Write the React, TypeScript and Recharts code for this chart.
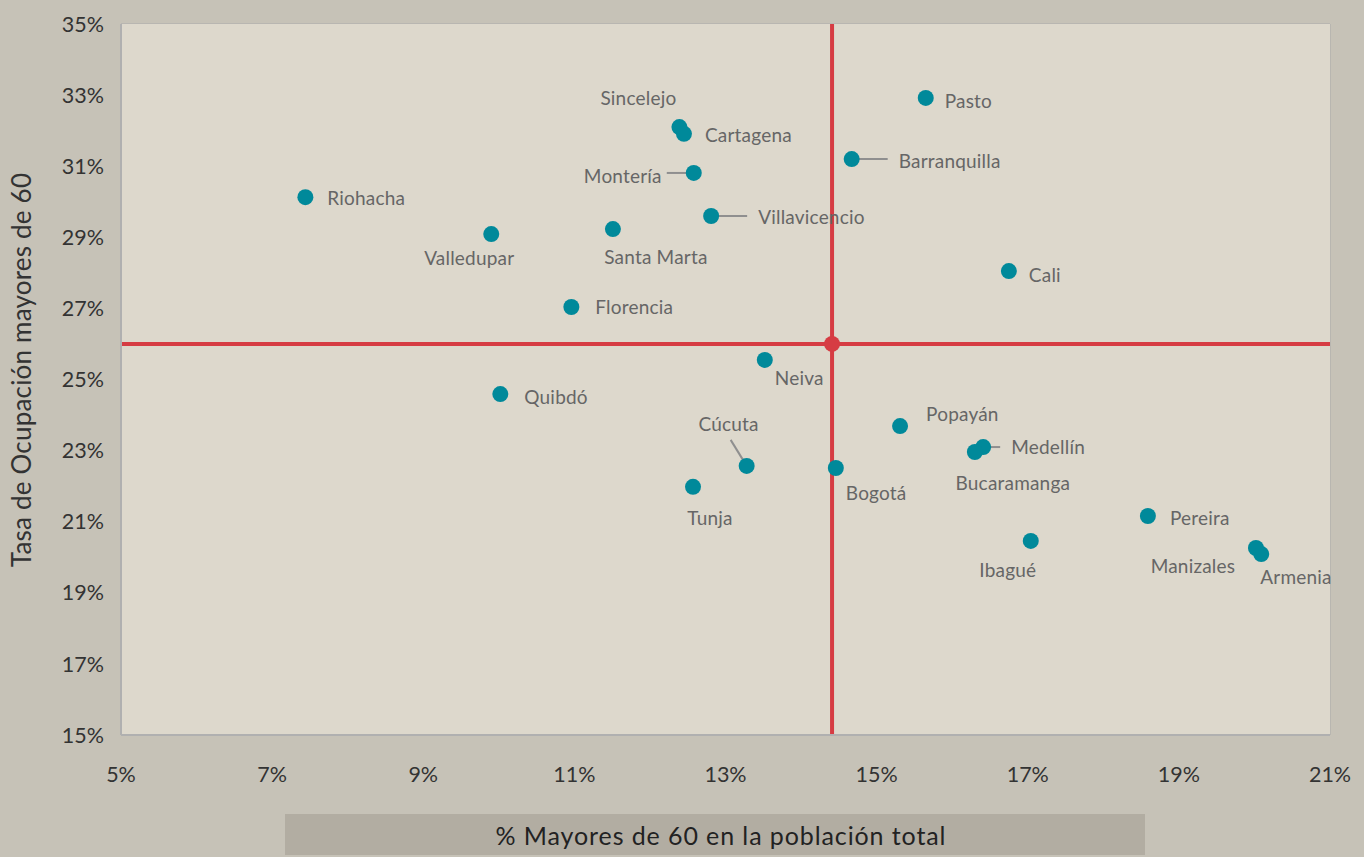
import React from 'react';
import {
  ScatterChart, Scatter, XAxis, YAxis, CartesianGrid, ReferenceLine, ReferenceDot,
} from 'recharts';

const cities = [
  'Pasto', 'Sincelejo', 'Cartagena', 'Barranquilla', 'Montería', 'Riohacha', 'Villavicencio',
  'Santa Marta', 'Valledupar', 'Cali', 'Florencia', 'Neiva', 'Quibdó', 'Popayán', 'Medellín',
  'Bucaramanga', 'Cúcuta', 'Bogotá', 'Tunja', 'Pereira', 'Ibagué', 'Manizales', 'Armenia',
];
const pctMayores60 = [
  15.65, 12.39, 12.45, 14.67, 12.58, 7.44, 12.81,
  11.51, 9.90, 16.75, 10.96, 13.52, 10.02, 15.31, 16.41,
  16.30, 13.28, 14.46, 12.57, 18.59, 17.04, 20.02, 20.09,
];
const tasaOcupacion60 = [
  32.92, 32.10, 31.91, 31.20, 30.81, 30.13, 29.60,
  29.23, 29.09, 28.05, 27.04, 25.55, 24.59, 23.69, 23.10,
  22.96, 22.57, 22.51, 21.98, 21.16, 20.46, 20.26, 20.09,
];
const promedioX = 14.41;
const promedioY = 26.0;
const xTicks = [5, 7, 9, 11, 13, 15, 17, 19, 21];
const yTicks = [15, 17, 19, 21, 23, 25, 27, 29, 31, 33, 35];

// label placement (layout only): dx, dy, anchor, optional leader line [x1,y1,x2,y2]
const labelPlacement: Record<string, { dx: number; dy: number; anchor: 'start' | 'middle' | 'end'; leader?: number[] }> = {
  'Pasto': { dx: 19, dy: 3, anchor: 'start' },
  'Sincelejo': { dx: -41, dy: -30, anchor: 'middle' },
  'Cartagena': { dx: 21, dy: 1, anchor: 'start' },
  'Barranquilla': { dx: 47, dy: 1, anchor: 'start', leader: [0, 0, 36, 0] },
  'Montería': { dx: -32, dy: 3, anchor: 'end', leader: [-27, 0, 0, 0] },
  'Riohacha': { dx: 22, dy: 0, anchor: 'start' },
  'Villavicencio': { dx: 47, dy: 1, anchor: 'start', leader: [0, 0, 36, 0] },
  'Santa Marta': { dx: 43, dy: 27, anchor: 'middle' },
  'Valledupar': { dx: -22, dy: 23, anchor: 'middle' },
  'Cali': { dx: 20, dy: 3, anchor: 'start' },
  'Florencia': { dx: 24, dy: 0, anchor: 'start' },
  'Neiva': { dx: 10, dy: 18, anchor: 'start' },
  'Quibdó': { dx: 24, dy: 2, anchor: 'start' },
  'Popayán': { dx: 26, dy: -13, anchor: 'start' },
  'Medellín': { dx: 28, dy: -1, anchor: 'start', leader: [0, 0, 17, 0] },
  'Bucaramanga': { dx: 38, dy: 30, anchor: 'middle' },
  'Cúcuta': { dx: -18, dy: -42, anchor: 'middle', leader: [-16, -26, 0, 0] },
  'Bogotá': { dx: 10, dy: 24, anchor: 'start' },
  'Tunja': { dx: 17, dy: 31, anchor: 'middle' },
  'Pereira': { dx: 22, dy: 1, anchor: 'start' },
  'Ibagué': { dx: -23, dy: 29, anchor: 'middle' },
  'Manizales': { dx: -63, dy: 17, anchor: 'middle' },
  'Armenia': { dx: -1, dy: 22, anchor: 'start' },
};

const data = cities.map((name, i) => ({ name, x: pctMayores60[i], y: tasaOcupacion60[i] }));

const FONT = "Lato, 'Noto Sans', sans-serif";

const PointShape = (props: any) => {
  const { cx, cy, payload } = props;
  if (cx == null || cy == null) return null;
  const p = labelPlacement[payload.name] || { dx: 18, dy: 0, anchor: 'start' };
  return (
    <g>
      {p.leader && (
        <line
          x1={cx + p.leader[0]} y1={cy + p.leader[1]} x2={cx + p.leader[2]} y2={cy + p.leader[3]}
          stroke="#8f8f8f" strokeWidth={2}
        />
      )}
      <circle cx={cx} cy={cy} r={8} fill="#00899a" />
      <text
        x={cx + p.dx} y={cy + p.dy} textAnchor={p.anchor} dominantBaseline="central"
        fontFamily={FONT} fontSize={19} fill="#666666" letterSpacing={0.2}
      >
        {payload.name}
      </text>
    </g>
  );
};

export default function App() {
  return (
    <div style={{ position: 'absolute', left: 0, top: 0, width: 1364, height: 857, background: '#c6c2b7', fontFamily: FONT }}>
      <ScatterChart width={1364} height={857} margin={{ top: 24, right: 34, bottom: 62, left: 61 }}>
        <rect x={121} y={24} width={1209} height={711} fill="#ddd8cc" />
        <CartesianGrid stroke="#aaaaaa" strokeWidth={1} />
        <XAxis
          type="number" dataKey="x" domain={[5, 21]} ticks={xTicks} interval={0}
          tickFormatter={(v: number) => `${v}%`} height={60}
          axisLine={{ stroke: '#b0b0b0', strokeWidth: 2 }} tickLine={false} tickMargin={26}
          tick={{ fill: '#333333', fontSize: 21.5, fontFamily: FONT }}
        />
        <YAxis
          type="number" dataKey="y" domain={[15, 35]} ticks={yTicks} interval={0}
          tickFormatter={(v: number) => `${v}%`} width={60}
          axisLine={{ stroke: '#b0b0b0', strokeWidth: 2 }} tickLine={false} tickMargin={11}
          tick={{ fill: '#333333', fontSize: 21.5, fontFamily: FONT }}
        />
        <ReferenceLine x={promedioX} stroke="#d63c43" strokeWidth={4} />
        <ReferenceLine y={promedioY} stroke="#d63c43" strokeWidth={4} />
        <ReferenceDot x={promedioX} y={promedioY} r={8} fill="#d63c43" stroke="none" />
        <Scatter data={data} shape={PointShape} isAnimationActive={false} />
      </ScatterChart>
      <div style={{ position: 'absolute', left: 0, top: 370, width: 0, height: 0 }}>
        <div
          style={{
            position: 'absolute', left: 21, top: 0, transform: 'translate(-50%, -50%) rotate(-90deg)',
            whiteSpace: 'nowrap', fontSize: 26, color: '#333333', fontFamily: FONT, letterSpacing: 0.2,
          }}
        >
          Tasa de Ocupación mayores de 60
        </div>
      </div>
      <div
        style={{
          position: 'absolute', left: 285, top: 814, width: 860, height: 41, background: '#b2ada2',
          display: 'flex', alignItems: 'center', justifyContent: 'center', boxSizing: 'border-box', paddingLeft: 12,
          fontSize: 25, color: '#222222', fontFamily: FONT, letterSpacing: 0.9,
        }}
      >
        % Mayores de 60 en la población total
      </div>
    </div>
  );
}
